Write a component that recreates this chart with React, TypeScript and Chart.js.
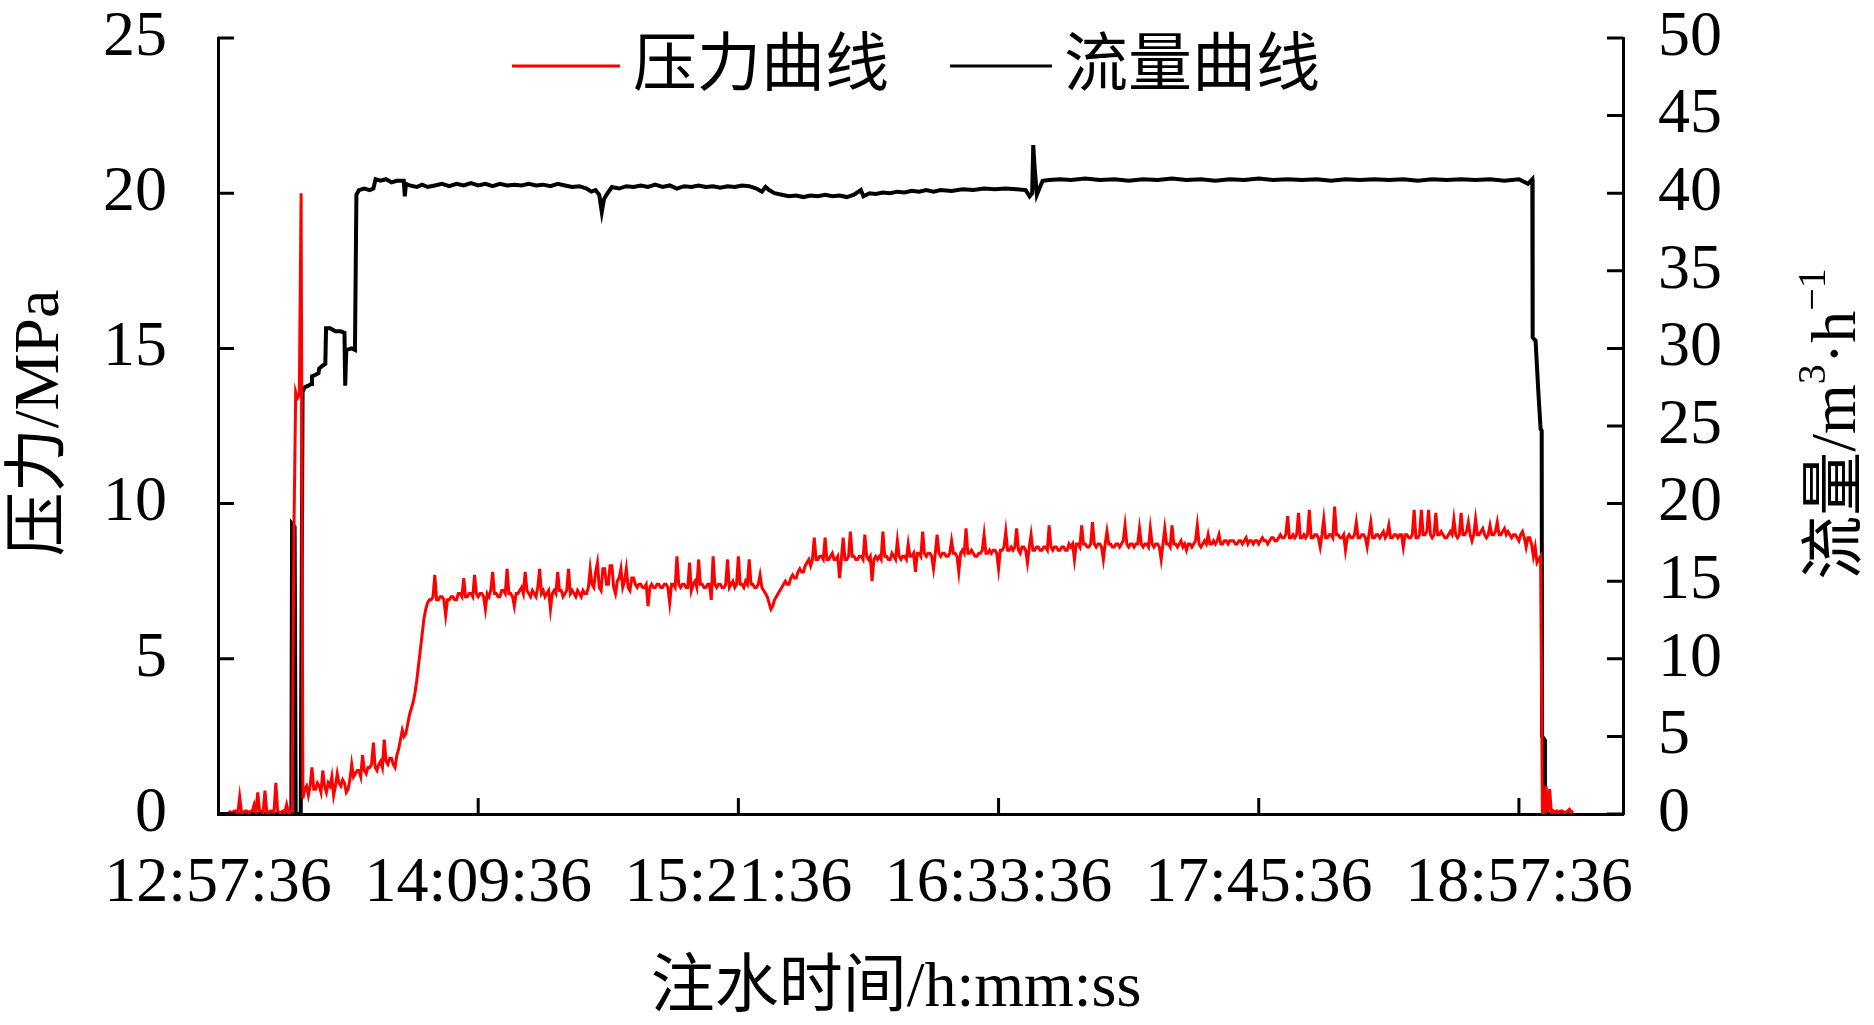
import React, { useEffect, useRef } from "react";
import { Chart, registerables } from "chart.js";

Chart.register(...registerables);

// ---------- data ----------
// time axis in minutes after 12:57:36 (axis spans 0.54 .. 0.81 day)
const START_SECONDS = 12 * 3600 + 57 * 60 + 36;
const TIME_MIN = 0;
const TIME_MAX = 388.8;
const timeTicks = [0, 72, 144, 216, 288, 360];
const pressureTicks = [0, 5, 10, 15, 20, 25];
const flowTicks = [0, 5, 10, 15, 20, 25, 30, 35, 40, 45, 50];

const seriesLabels = ["压力曲线", "流量曲线"];
const xTitle = "注水时间/h:mm:ss";
const yLeftTitle = "压力/MPa";

// pressure logger: one sample every 0.5 min starting at minute 3 (each row = 10 min)
const PRESSURE_START_MIN = 3;
const PRESSURE_STEP_MIN = 0.5;
const pressureValues = [
  0.1, 0.05, 0.05, 0.1, 0.1, 0.05, 0.55, 0.05, 0.05, 0.1, 0.1, 0.05, 0.08, 0.1, 0.3, 0.05, 0.7, 0.1, 0.1, 0.05, // 3
  0.75, 0.05, 0.05, 0.1, 0.1, 0.05, 1.0, 0.1, 0.05, 0.05, 0.1, 0.05, 0.3, 0.05, 0.05, 0.1, 9.0, 13.6, 13.4, 13.5, // 13
  20.0, 0.5, 0.8, 0.9, 0.6, 0.9, 1.5, 0.8, 0.8, 1.0, 0.9, 0.7, 1.4, 0.9, 0.7, 1.0, 0.9, 1.2, 0.6, 0.9, // 23
  1.3, 1.0, 0.9, 1.1, 1.0, 0.7, 0.8, 1.1, 1.6, 1.2, 1.3, 1.4, 1.4, 1.2, 1.9, 1.4, 1.3, 1.5, 1.5, 1.6, // 33
  2.3, 1.5, 1.4, 1.6, 1.7, 1.5, 2.4, 1.7, 1.6, 1.8, 1.8, 1.6, 1.5, 1.9, 2.1, 2.4, 2.7, 2.5, 2.6, 2.9, // 43
  3.2, 3.4, 3.6, 3.9, 4.3, 4.8, 5.3, 5.8, 6.3, 6.6, 6.8, 6.9, 6.9, 7.0, 7.7, 6.9, 6.9, 7.0, 7.0, 6.9, // 53
  6.4, 6.9, 6.9, 7.0, 7.0, 6.9, 6.9, 7.1, 7.1, 7.0, 7.6, 7.0, 7.0, 7.1, 7.1, 7.0, 7.7, 7.1, 7.0, 7.1, // 63
  7.1, 7.0, 6.6, 7.1, 7.0, 7.2, 7.8, 7.1, 7.1, 7.0, 7.0, 7.2, 7.2, 7.1, 7.9, 7.1, 7.1, 7.0, 6.7, 7.1, // 73
  7.1, 7.2, 7.3, 7.1, 7.8, 7.2, 7.1, 7.0, 7.2, 7.1, 7.0, 7.3, 7.9, 7.1, 7.2, 7.0, 7.1, 7.2, 6.6, 7.1, // 83
  7.2, 7.1, 7.8, 7.2, 7.2, 7.0, 7.1, 7.2, 7.9, 7.1, 7.2, 7.1, 7.0, 7.2, 7.1, 7.0, 7.2, 7.1, 7.1, 7.3, // 93
  7.9, 7.4, 7.3, 7.8, 8.1, 7.3, 7.2, 7.9, 7.9, 7.4, 7.4, 8.0, 8.0, 7.3, 7.1, 7.5, 7.6, 7.9, 7.3, 7.5, // 103
  7.9, 7.3, 7.2, 7.6, 7.6, 7.4, 7.3, 7.4, 7.4, 7.3, 7.3, 7.4, 6.7, 7.3, 7.4, 7.3, 7.3, 7.4, 7.4, 7.3, // 113
  7.3, 7.4, 7.4, 7.3, 6.8, 7.4, 7.4, 7.3, 8.3, 7.4, 7.3, 7.4, 7.4, 7.3, 7.3, 8.1, 7.2, 7.4, 7.5, 7.3, // 123
  8.2, 7.4, 7.4, 7.3, 7.3, 7.4, 7.4, 6.9, 8.3, 7.4, 7.3, 7.4, 7.4, 7.3, 7.3, 7.4, 8.2, 7.3, 7.4, 7.5, // 133
  7.3, 7.4, 8.3, 7.4, 7.4, 7.3, 7.5, 7.4, 8.2, 7.4, 7.4, 7.3, 7.3, 7.4, 7.7, 7.3, 7.2, 7.1, 7.0, 6.8, // 143
  6.6, 6.7, 6.9, 7.0, 7.1, 7.2, 7.3, 7.4, 7.5, 7.4, 7.4, 7.6, 7.7, 7.6, 7.6, 7.8, 7.9, 7.8, 7.8, 8.0, // 153
  8.1, 8.2, 8.0, 8.2, 8.9, 8.2, 8.2, 8.3, 8.3, 8.2, 8.9, 8.2, 8.2, 8.3, 8.4, 8.2, 8.2, 8.3, 7.6, 8.2, // 163
  8.9, 8.2, 8.2, 8.3, 9.1, 8.3, 8.3, 8.2, 8.2, 8.3, 8.3, 8.2, 9.0, 8.3, 8.2, 8.3, 7.5, 8.2, 8.3, 8.2, // 173
  8.3, 8.2, 9.1, 8.3, 8.3, 8.2, 8.2, 8.4, 8.3, 8.2, 8.8, 8.3, 8.2, 8.3, 8.3, 8.2, 8.7, 8.3, 8.3, 8.4, // 183
  7.8, 8.4, 8.4, 8.3, 9.1, 8.4, 8.3, 8.4, 8.4, 8.3, 7.9, 8.4, 9.0, 8.4, 8.3, 8.4, 8.4, 8.3, 8.3, 8.4, // 193
  8.8, 8.4, 8.4, 8.3, 7.8, 8.4, 8.5, 8.4, 9.2, 8.4, 8.4, 8.5, 8.4, 8.3, 8.3, 8.4, 8.4, 8.5, 9.0, 8.4, // 203
  8.4, 8.5, 8.4, 8.5, 8.5, 8.4, 7.9, 8.5, 8.5, 8.6, 9.1, 8.5, 8.5, 8.6, 8.5, 8.6, 9.2, 8.5, 8.4, 8.6, // 213
  8.6, 8.5, 8.1, 8.6, 9.0, 8.5, 8.5, 8.6, 8.6, 8.5, 8.5, 8.6, 8.6, 8.5, 9.3, 8.6, 8.5, 8.6, 8.6, 8.5, // 223
  8.5, 8.6, 8.6, 8.5, 8.5, 8.7, 8.6, 8.7, 8.2, 8.7, 8.7, 8.6, 9.3, 8.7, 8.7, 8.6, 8.6, 8.7, 9.4, 8.7, // 233
  8.6, 8.7, 8.7, 8.6, 8.2, 8.7, 9.1, 8.7, 8.7, 8.6, 8.6, 8.7, 8.7, 8.6, 8.7, 8.8, 9.3, 8.7, 8.6, 8.7, // 243
  8.7, 8.6, 8.7, 8.7, 9.2, 8.7, 8.6, 8.7, 8.7, 8.6, 9.2, 8.7, 8.6, 8.7, 8.7, 8.6, 8.2, 8.7, 9.2, 8.7, // 253
  8.7, 8.6, 9.3, 8.7, 8.7, 8.6, 8.7, 8.8, 8.6, 8.7, 8.5, 8.7, 8.7, 8.6, 8.7, 8.8, 9.3, 8.7, 8.6, 8.7, // 263
  8.8, 8.7, 9.0, 8.7, 8.7, 8.8, 8.7, 8.8, 9.0, 8.7, 8.7, 8.8, 8.8, 8.7, 8.8, 8.8, 8.8, 8.7, 8.7, 8.8, // 273
  8.8, 8.7, 8.8, 8.9, 8.7, 8.8, 8.8, 8.7, 8.8, 8.8, 8.7, 8.8, 8.9, 8.8, 8.8, 8.7, 8.8, 8.9, 8.9, 8.8, // 283
  8.8, 8.9, 9.0, 8.9, 8.9, 9.0, 9.6, 8.9, 8.9, 9.0, 8.9, 9.0, 9.7, 8.9, 8.9, 9.0, 8.9, 9.0, 9.8, 8.9, // 293
  8.9, 9.0, 9.0, 8.9, 8.6, 9.0, 9.5, 8.9, 8.9, 9.0, 9.0, 8.9, 9.9, 9.0, 9.0, 8.9, 8.9, 9.0, 8.5, 8.9, // 303
  9.0, 8.9, 8.9, 9.0, 9.4, 8.9, 8.9, 9.0, 9.0, 8.9, 8.6, 9.0, 9.4, 8.9, 8.9, 9.0, 9.0, 8.9, 9.0, 9.1, // 313
  8.9, 9.0, 9.3, 8.9, 8.9, 9.0, 9.0, 8.9, 9.0, 9.0, 8.6, 9.0, 9.0, 8.9, 8.9, 9.0, 9.8, 8.9, 8.9, 9.0, // 323
  9.8, 9.0, 9.0, 9.1, 9.8, 9.0, 8.9, 9.0, 9.7, 9.0, 9.0, 9.1, 9.0, 8.9, 8.9, 9.0, 9.1, 9.0, 9.5, 9.0, // 333
  8.9, 9.0, 9.7, 9.0, 9.0, 9.1, 9.4, 9.0, 8.8, 9.0, 9.5, 9.0, 9.0, 9.1, 9.2, 9.0, 8.9, 9.0, 9.3, 9.0, // 343
  9.0, 9.1, 9.4, 9.0, 9.0, 9.1, 9.2, 9.0, 9.1, 9.0, 8.9, 9.0, 9.0, 8.9, 8.8, 9.0, 9.1, 8.9, 8.6, 8.9, // 353
  8.9, 8.7, 8.3, 8.6, 8.1, 8.2, 8.3, 0.0, 0.0, 0.9, 0.05, 0.8, 0.0, 0.1, 0.05, 0.1, 0.05, 0.1, 0.1, 0.05, // 363
  0.05, 0.1, 0.15, 0.05, 0.1, // 373
];

// flow: [minute, m3/h]
const flowPoints: [number, number][] = [
  [0, 0], [20.3, 0], [20.5, 18.7], [21.2, 18.5], [21.5, 0], [22.9, 0], [23.4, 27.2],
  [24.0, 27.5], [25.0, 27.6], [25.8, 27.7], [26.0, 28.2], [27.0, 28.3], [27.8, 28.4],
  [28.0, 28.7], [29.0, 28.9], [29.7, 29.0], [29.9, 31.3], [31.0, 31.3], [32.5, 31.1],
  [34.0, 31.1], [35.0, 31.0], [35.2, 27.6], [35.5, 29.9], [37.0, 30.0], [37.9, 29.9],
  [38.3, 39.9], [39.0, 40.2], [40.5, 40.3], [42.0, 40.2], [43.0, 40.3], [43.6, 40.9],
  [45.0, 40.8], [46.5, 40.9], [48.0, 40.7], [49.5, 40.8], [51.4, 40.8], [51.7, 39.8],
  [52.0, 40.6], [53.0, 40.5], [55.0, 40.4], [56.5, 40.55], [58.0, 40.4], [60.0, 40.5],
  [62.0, 40.6], [64.0, 40.45], [66.0, 40.6], [68.0, 40.5], [70.0, 40.65], [72.0, 40.5],
  [74.0, 40.6], [76.0, 40.45], [78.0, 40.6], [80.0, 40.5], [82.0, 40.55], [84.0, 40.5],
  [86.0, 40.6], [88.0, 40.5], [90.0, 40.55], [92.0, 40.45], [94.0, 40.6], [96.0, 40.5],
  [98.0, 40.4], [100.0, 40.45], [102.0, 40.3], [103.3, 40.1], [104.5, 40.2], [105.5, 39.9],
  [106.2, 38.8], [106.8, 39.6], [107.5, 39.9], [109.0, 40.4], [111.0, 40.3], [113.0, 40.45],
  [115.0, 40.4], [117.0, 40.5], [119.0, 40.4], [121.0, 40.55], [123.0, 40.4], [125.0, 40.5],
  [127.0, 40.3], [129.0, 40.45], [131.0, 40.4], [133.0, 40.5], [135.0, 40.4], [137.0, 40.45],
  [139.0, 40.35], [141.0, 40.45], [143.0, 40.4], [145.0, 40.5], [147.0, 40.45], [149.0, 40.3],
  [150.5, 40.1], [151.5, 40.4], [152.5, 40.2], [154.0, 40.0], [156.0, 39.9], [158.0, 39.8],
  [160.0, 39.85], [162.0, 39.75], [164.0, 39.85], [166.0, 39.8], [168.0, 39.9], [170.0, 39.8],
  [172.0, 39.85], [174.0, 39.75], [176.0, 39.9], [177.9, 40.2], [178.6, 39.8], [180.3, 40.0],
  [182.0, 39.95], [184.0, 40.05], [186.0, 40.0], [188.0, 40.1], [190.0, 40.05], [192.0, 40.15],
  [194.0, 40.1], [196.0, 40.2], [198.0, 40.1], [200.0, 40.2], [203.0, 40.15], [206.0, 40.25],
  [209.0, 40.2], [212.0, 40.3], [215.0, 40.25], [218.0, 40.3], [221.0, 40.25], [223.5, 40.2],
  [224.6, 39.8], [225.3, 40.0], [225.6, 43.1], [226.0, 41.6], [226.6, 39.9], [227.3, 40.3],
  [228.2, 40.8], [230.0, 40.85], [233.0, 40.9], [236.0, 40.85], [240.0, 40.95], [244.0, 40.85],
  [248.0, 40.9], [252.0, 40.8], [256.0, 40.9], [260.0, 40.85], [264.0, 40.95], [268.0, 40.85],
  [272.0, 40.9], [276.0, 40.8], [280.0, 40.9], [284.0, 40.85], [288.0, 40.95], [292.0, 40.85],
  [296.0, 40.9], [300.0, 40.85], [304.0, 40.9], [308.0, 40.8], [312.0, 40.9], [316.0, 40.85],
  [320.0, 40.9], [324.0, 40.85], [328.0, 40.9], [332.0, 40.8], [336.0, 40.9], [340.0, 40.85],
  [344.0, 40.9], [348.0, 40.85], [352.0, 40.9], [356.0, 40.8], [360.0, 40.9], [362.5, 40.6],
  [363.7, 40.9], [363.8, 30.7], [364.6, 30.5], [365.4, 27.1], [366.0, 24.8], [366.3, 24.7],
  [366.4, 5.0], [367.0, 4.8], [367.2, 0], [375.0, 0],
];

// ---------- styling ----------
const SERIF = '"Liberation Serif", "Noto Sans CJK SC", serif';
const FONT_SIZE = 64;
const TICK_LEN = 16;
const AXIS_W = 3;
const RED = "#ff0000";
const BLACK = "#000000";

function formatTime(minutes: number): string {
  const total = Math.round(START_SECONDS + minutes * 60);
  const h = Math.floor(total / 3600);
  const m = Math.floor((total % 3600) / 60);
  const s = total % 60;
  return `${h}:${String(m).padStart(2, "0")}:${String(s).padStart(2, "0")}`;
}

function zeroPad(scale: any) {
  scale.paddingTop = 0;
  scale.paddingBottom = 0;
  scale.paddingLeft = 0;
  scale.paddingRight = 0;
}

const decorPlugin = {
  id: "decor",
  afterDraw(chart: any) {
    const ctx: CanvasRenderingContext2D = chart.ctx;
    const { left, right, bottom } = chart.chartArea;
    const xs = chart.scales.x;
    const ys = chart.scales.y;
    const y1 = chart.scales.y1;
    ctx.save();
    // inward tick marks
    ctx.strokeStyle = BLACK;
    ctx.lineWidth = AXIS_W;
    ctx.beginPath();
    timeTicks.forEach((v) => {
      if (v === TIME_MIN) return;
      const px = xs.getPixelForValue(v);
      ctx.moveTo(px, bottom);
      ctx.lineTo(px, bottom - TICK_LEN);
    });
    pressureTicks.forEach((v) => {
      const py = ys.getPixelForValue(v);
      ctx.moveTo(left, py);
      ctx.lineTo(left + TICK_LEN, py);
    });
    flowTicks.forEach((v) => {
      const py = y1.getPixelForValue(v);
      ctx.moveTo(right, py);
      ctx.lineTo(right - TICK_LEN, py);
    });
    ctx.stroke();

    // legend inside plot
    const legendPos = [
      { x0: 512, x1: 620, tx: 633 },
      { x0: 950, x1: 1052, tx: 1064 },
    ];
    chart.data.datasets.forEach((ds: any, i: number) => {
      const p = legendPos[i];
      ctx.strokeStyle = ds.borderColor;
      ctx.lineWidth = 3;
      ctx.beginPath();
      ctx.moveTo(p.x0, 66);
      ctx.lineTo(p.x1, 66);
      ctx.stroke();
      ctx.fillStyle = BLACK;
      ctx.font = `${FONT_SIZE}px ${SERIF}`;
      ctx.textAlign = "left";
      ctx.textBaseline = "middle";
      ctx.fillText(ds.label, p.tx, 68);
    });

    ctx.fillStyle = BLACK;
    ctx.textBaseline = "alphabetic";
    // x title
    ctx.font = `${FONT_SIZE}px ${SERIF}`;
    ctx.textAlign = "center";
    ctx.fillText(xTitle, 896, 1006);

    // left title
    ctx.save();
    ctx.translate(58, 423);
    ctx.rotate(-Math.PI / 2);
    ctx.textAlign = "center";
    ctx.fillText(yLeftTitle, 0, 0);
    ctx.restore();

    // right title with superscripts
    const parts = [
      { t: "流量/m", sup: false },
      { t: "3", sup: true },
      { t: "·h", sup: false },
      { t: "−1", sup: true },
    ];
    const supSize = 40;
    let total = 0;
    const widths = parts.map((p) => {
      ctx.font = `${p.sup ? supSize : FONT_SIZE}px ${SERIF}`;
      const w = ctx.measureText(p.t).width;
      total += w;
      return w;
    });
    ctx.save();
    ctx.translate(1855, 424);
    ctx.rotate(-Math.PI / 2);
    ctx.textAlign = "left";
    let cx = -total / 2;
    parts.forEach((p, i) => {
      ctx.font = `${p.sup ? supSize : FONT_SIZE}px ${SERIF}`;
      ctx.fillText(p.t, cx, p.sup ? -30 : 0);
      cx += widths[i];
    });
    ctx.restore();

    ctx.restore();
  },
};

export default function App() {
  const canvasRef = useRef<HTMLCanvasElement | null>(null);

  useEffect(() => {
    const canvas = canvasRef.current;
    if (!canvas) return;
    const pressureData = pressureValues.map((v, i) => ({
      x: PRESSURE_START_MIN + i * PRESSURE_STEP_MIN,
      y: v,
    }));
    const flowData = flowPoints.map(([t, v]) => ({ x: t, y: v }));
    const tickFont = { family: SERIF, size: FONT_SIZE };

    const chart = new Chart(canvas, {
      type: "line",
      data: {
        datasets: [
          {
            label: seriesLabels[0],
            data: pressureData,
            yAxisID: "y",
            borderColor: RED,
            backgroundColor: RED,
            borderWidth: 3,
            pointRadius: 0,
            tension: 0,
          },
          {
            label: seriesLabels[1],
            data: flowData,
            yAxisID: "y1",
            borderColor: BLACK,
            backgroundColor: BLACK,
            borderWidth: 4,
            pointRadius: 0,
            tension: 0,
          },
        ],
      },
      options: {
        animation: false,
        responsive: false,
        devicePixelRatio: 1,
        layout: { padding: { top: 38, left: 0, right: 0, bottom: 0 } },
        plugins: {
          legend: { display: false },
          tooltip: { enabled: false },
          title: { display: false },
        },
        scales: {
          x: {
            type: "linear",
            position: "bottom",
            min: TIME_MIN,
            max: TIME_MAX,
            afterBuildTicks: (scale: any) => {
              scale.ticks = timeTicks.map((v) => ({ value: v }));
            },
            afterFit: (scale: any) => {
              scale.height = 1025 - 814;
              zeroPad(scale);
            },
            ticks: {
              autoSkip: false,
              maxRotation: 0,
              minRotation: 0,
              padding: 32,
              color: BLACK,
              font: tickFont,
              callback: (v: any) => formatTime(Number(v)),
            },
            grid: { display: false, drawTicks: false },
            border: { display: true, color: BLACK, width: AXIS_W },
          },
          y: {
            type: "linear",
            position: "left",
            min: 0,
            max: 25,
            afterBuildTicks: (scale: any) => {
              scale.ticks = pressureTicks.map((v) => ({ value: v }));
            },
            afterFit: (scale: any) => {
              scale.width = 218;
              zeroPad(scale);
            },
            ticks: {
              autoSkip: false,
              padding: 51,
              color: BLACK,
              font: tickFont,
            },
            grid: { display: false, drawTicks: false },
            border: { display: true, color: BLACK, width: AXIS_W },
          },
          y1: {
            type: "linear",
            position: "right",
            min: 0,
            max: 50,
            afterBuildTicks: (scale: any) => {
              scale.ticks = flowTicks.map((v) => ({ value: v }));
            },
            afterFit: (scale: any) => {
              scale.width = 1874 - 1623;
              zeroPad(scale);
            },
            ticks: {
              autoSkip: false,
              padding: 35,
              color: BLACK,
              font: tickFont,
            },
            grid: { display: false, drawTicks: false },
            border: { display: true, color: BLACK, width: AXIS_W },
          },
        },
      },
      plugins: [decorPlugin],
    } as any);

    return () => {
      chart.destroy();
    };
  }, []);

  return (
    <div
      style={{
        position: "fixed",
        left: 0,
        top: 0,
        width: 1874,
        height: 1025,
        background: "#ffffff",
      }}
    >
      <canvas ref={canvasRef} width={1874} height={1025} style={{ display: "block" }} />
    </div>
  );
}
